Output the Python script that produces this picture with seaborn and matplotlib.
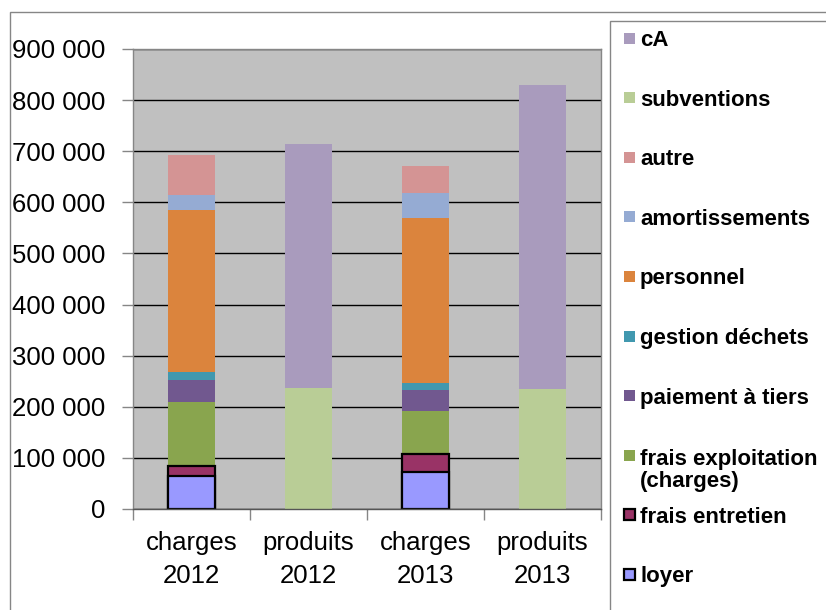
import matplotlib
matplotlib.use("Agg")
import matplotlib.pyplot as plt
import seaborn as sns
import pandas as pd
import numpy as np
from matplotlib.patches import Rectangle
from matplotlib.ticker import FuncFormatter

# ---------------- data ----------------
categories = ["charges\n2012", "produits\n2012", "charges\n2013", "produits\n2013"]

# stacking order: bottom -> top
series_names = ["loyer", "frais entretien", "frais exploitation\n(charges)",
                "paiement à tiers", "gestion déchets", "personnel",
                "amortissements", "autre", "subventions", "cA"]
loyer = [64000, 0, 72000, 0]
frais_entretien = [19500, 0, 36000, 0]
frais_exploitation = [126500, 0, 84500, 0]
paiement_tiers = [43000, 0, 40000, 0]
gestion_dechets = [16000, 0, 15000, 0]
personnel = [316000, 0, 321000, 0]
amortissements = [29000, 0, 50000, 0]
autre = [78000, 0, 53000, 0]
subventions = [0, 236000, 0, 234000]
cA = [0, 479000, 0, 595000]

series_values = [loyer, frais_entretien, frais_exploitation, paiement_tiers,
                 gestion_dechets, personnel, amortissements, autre,
                 subventions, cA]
colors = ["#9999FF", "#993366", "#89A54E", "#71588F", "#4198AF",
          "#DB843D", "#95ABD3", "#D49494", "#B9CD96", "#A99BBD"]
outlined = [True, True, False, False, False, False, False, False, False, False]

y_ticks = list(range(0, 900001, 100000))

# ---------------- style ----------------
plt.rcParams['font.family'] = ['Liberation Sans', 'DejaVu Sans']
W, H = 826, 610
fig = plt.figure(figsize=(W / 100, H / 100), dpi=100)
fig.patch.set_facecolor("white")

ax = fig.add_axes([133 / W, 1 - 509 / H, (601 - 133) / W, (509 - 49) / H])
ax.set_facecolor("#C0C0C0")

values = np.array(series_values, dtype=float)
tops = values.cumsum(axis=0)
cats = np.array(categories)

# draw cumulative bars from top layer down so lower layers overlay
for i in reversed(range(len(series_names))):
    mask = values[i] > 0
    df = pd.DataFrame({"cat": cats[mask], "top": tops[i][mask]})
    sns.barplot(data=df, x="cat", y="top", order=categories, color=colors[i],
                saturation=1, width=0.4, errorbar=None, ax=ax,
                edgecolor="black" if outlined[i] else "none",
                linewidth=1.6 if outlined[i] else 0)

ax.set_xlim(-0.5, 3.5)
ax.set_ylim(0, 900000)
ax.set_yticks(y_ticks)
ax.yaxis.set_major_formatter(FuncFormatter(lambda v, p: f"{int(v):,}".replace(",", " ")))
ax.set_xlabel("")
ax.set_ylabel("")
ax.set_axisbelow(True)
ax.yaxis.grid(True, color="black", linewidth=1)
ax.xaxis.grid(False)

ax.set_xticks(range(len(categories)))
ax.set_xticklabels(categories, fontsize=18.5, linespacing=1.45)
ax.set_xticks([-0.5, 0.5, 1.5, 2.5, 3.5], minor=True)
ax.tick_params(axis="x", which="major", length=0, pad=16)
ax.tick_params(axis="x", which="minor", length=8, width=1, color="#868686", direction="out")
ax.tick_params(axis="y", length=8, width=1, color="#868686", pad=12, labelsize=18.5)

for s in ["top", "right", "left"]:
    ax.spines[s].set_color("#868686")
    ax.spines[s].set_linewidth(1)
ax.spines["bottom"].set_color("#555555")
ax.spines["bottom"].set_linewidth(1)

# outer chart frame
fig.patches.append(Rectangle((10 / W, -0.1), 1.2, (1 - 12 / H) + 0.1,
                             transform=fig.transFigure, fill=False,
                             edgecolor="#868686", linewidth=1))
# legend frame
fig.patches.append(Rectangle((609.5 / W, -0.1), 1.0, (1 - 21 / H) + 0.1,
                             transform=fig.transFigure, fill=False,
                             edgecolor="#868686", linewidth=1))

# legend entries (top to bottom: reverse stacking order)
slot0, step, line_step = 38.0, 59.6, 24.0
for k, i in enumerate(reversed(range(len(series_names)))):
    cy = slot0 + step * k
    fig.patches.append(Rectangle((624 / W, 1 - (cy + 5.5) / H), 11 / W, 11 / H,
                                 transform=fig.transFigure,
                                 facecolor=colors[i],
                                 edgecolor="black" if outlined[i] else "none",
                                 linewidth=1.6 if outlined[i] else 0))
    n_lines = series_names[i].count("\n") + 1
    base = cy + 8 + line_step * (n_lines - 1)
    fig.text(640 / W, 1 - base / H, series_names[i], fontsize=16,
             fontweight="bold", ha="left", va="baseline", linespacing=1.05)

fig.savefig("out.png", dpi=100)
